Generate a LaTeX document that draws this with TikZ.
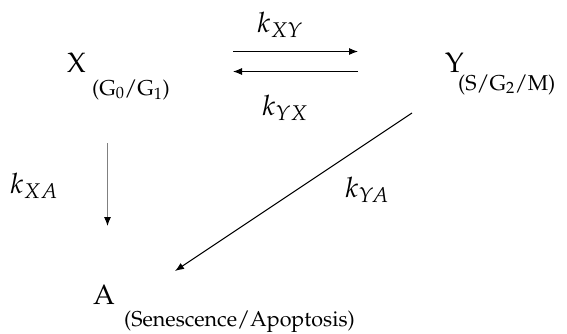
\documentclass[tikz,border=0pt]{standalone}
\usepackage[T1]{fontenc}
\usepackage{mathpazo}
\usetikzlibrary{arrows.meta}
\tikzset{
  big/.style={inner sep=0pt, anchor=base west, font=\fontsize{28}{32}\selectfont},
  small/.style={inner sep=0pt, anchor=base west, font=\fontsize{21.5}{25}\selectfont},
  rate/.style={inner sep=0pt, anchor=base west, font=\fontsize{28}{32}\selectfont},
  arr/.style={line width=1pt, -{Latex[length=9pt,width=7pt,color=black]}},
}
\begin{document}
\begin{tikzpicture}[x=1pt,y=-1pt]
\useasboundingbox (0,0) rectangle (567,333);
\node[big] (X) at (67,72) {X};
\node[small] (Xs) at (92,95) {(G$_0$/G$_1$)};
\node[big] (Y) at (445,72) {Y};
\node[small] (Ys) at (458,90) {(S/G$_2$/M)};
\node[big] (A) at (93,304) {A};
\node[small] (As) at (124,326) {(Senescence/Apoptosis)};
\coordinate (t1) at (233,51.5);
\coordinate (t2) at (358,51.5);
\coordinate (b1) at (233,71.5);
\coordinate (b2) at (358,71.5);
\coordinate (v1) at (107.5,143);
\coordinate (v2) at (107.5,226);
\coordinate (d1) at (412,113);
\coordinate (d2) at (175,271);
\draw[arr] (t1) -- (t2);
\draw[arr] (b2) -- (b1);
\draw[arr, draw=gray] (v1) -- (v2);
\draw[arr] (d1) -- (d2);
\node[rate] (kxy) at (257,32) {$k_{XY}$};
\node[rate] (kyx) at (262,115) {$k_{YX}$};
\node[rate] (kxa) at (10,193) {$k_{XA}$};
\node[rate] (kya) at (345,197) {$k_{YA}$};
\end{tikzpicture}
\end{document}
